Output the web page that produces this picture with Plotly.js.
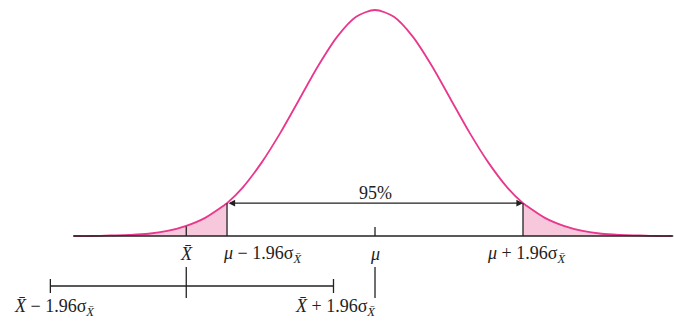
<!DOCTYPE html>
<html>
<head>
<meta charset="utf-8">
<script src="https://cdn.plot.ly/plotly-3.0.1.min.js"></script>
<style>
  html, body { margin: 0; padding: 0; background: #fff; }
  #plotArea { width: 674px; height: 323px; }
</style>
</head>
<body>
<div id="plotArea"></div>
<script>
// curve heights, in units of sigma from mu
var zValues = [-4, -3.75, -3.5, -3.25, -3, -2.75, -2.5, -2.25, -2, -1.96, -1.75, -1.5, -1.25, -1, -0.75, -0.5, -0.25, 0,
               0.25, 0.5, 0.75, 1, 1.25, 1.5, 1.75, 1.96, 2, 2.25, 2.5, 2.75, 3, 3.25, 3.5, 3.75, 3.93];
var heights = [0.000, 0.000, 0.001, 0.002, 0.004, 0.009, 0.018, 0.032, 0.054, 0.058, 0.086, 0.130, 0.183, 0.242, 0.301, 0.352, 0.387, 0.399,
               0.387, 0.352, 0.301, 0.242, 0.183, 0.130, 0.086, 0.058, 0.054, 0.032, 0.018, 0.009, 0.004, 0.002, 0.001, 0.000, 0.000];

var cutLow = -1.96, cutHigh = 1.96;
var xbar = -2.5;
var intervalEnds = [-4.3, -0.55];

var pink = "#e8378c";
var fillPink = "rgba(246,190,214,0.85)";
var ink = "#222";

function tail(test) {
    var xs = [], ys = [];
    for (var i = 0; i < zValues.length; i++) {
        if (test(zValues[i])) { xs.push(zValues[i]); ys.push(heights[i]); }
    }
    return {x: xs, y: ys};
}
var lo = tail(function (z) { return z <= cutLow; });
var hi = tail(function (z) { return z >= cutHigh; });

var data = [
    {x: lo.x, y: lo.y, type: "scatter", mode: "none", fill: "tozeroy", fillcolor: fillPink, line: {shape: "spline"}, hoverinfo: "skip"},
    {x: hi.x, y: hi.y, type: "scatter", mode: "none", fill: "tozeroy", fillcolor: fillPink, line: {shape: "spline"}, hoverinfo: "skip"},
    {x: zValues, y: heights, type: "scatter", mode: "lines", line: {color: pink, width: 1.8, shape: "spline", smoothing: 0.8}, hoverinfo: "skip"}
];

function hAt(z) {
    return heights[zValues.indexOf(z)];
}

var lineStyle = {color: ink, width: 1.3};
var shapes = [
    // baseline
    {type: "line", xref: "x", yref: "y", x0: -3.99, x1: 3.95, y0: 0, y1: 0, line: {color: ink, width: 1.6}},
    // cut lines
    {type: "line", xref: "x", yref: "y", x0: cutLow, x1: cutLow, y0: 0, y1: hAt(cutLow), line: lineStyle},
    {type: "line", xref: "x", yref: "y", x0: cutHigh, x1: cutHigh, y0: 0, y1: hAt(cutHigh), line: lineStyle},
    // X bar up to curve
    {type: "line", xref: "x", yref: "y", x0: xbar, x1: xbar, y0: 0, y1: 0.017, line: lineStyle},
    // mu tick
    {type: "line", xref: "x", yref: "y", x0: 0, x1: 0, y0: 0, y1: 0.016, line: lineStyle},
    // lower part: interval
    {type: "line", xref: "x", yref: "y", x0: intervalEnds[0], x1: intervalEnds[1], y0: -0.0883, y1: -0.0883, line: lineStyle},
    {type: "line", xref: "x", yref: "y", x0: intervalEnds[0], x1: intervalEnds[0], y0: -0.0759, y1: -0.1006, line: lineStyle},
    {type: "line", xref: "x", yref: "y", x0: intervalEnds[1], x1: intervalEnds[1], y0: -0.0759, y1: -0.1006, line: lineStyle},
    {type: "line", xref: "x", yref: "y", x0: xbar, x1: xbar, y0: -0.0547, y1: -0.1095, line: lineStyle},
    {type: "line", xref: "x", yref: "y", x0: 0, x1: 0, y0: -0.0547, y1: -0.1095, line: lineStyle}
];

var txtFont = {family: "Liberation Serif, Times New Roman, serif", size: 18, color: ink};
var XB = "<i>X\u0304</i>";
var SIG = "\u03c3<sub>" + XB + "</sub>";
function label(x, y, text) {
    return {x: x, y: y, xref: "x", yref: "y", text: text, showarrow: false, font: txtFont, xanchor: "center", yanchor: "middle"};
}
var annotations = [
    label(0, 0.0759, "95%"),
    label(xbar, -0.0318, XB),
    label(-1.49, -0.0318, "<i>\u03bc</i> \u2212 1.96" + SIG),
    label(0, -0.0318, "<i>\u03bc</i>"),
    label(2.0, -0.0318, "<i>\u03bc</i> + 1.96" + SIG),
    label(-4.25, -0.1254, XB + " \u2212 1.96" + SIG),
    label(-0.52, -0.1254, XB + " + 1.96" + SIG),
    // double headed arrow over the middle 95%
    {x: cutHigh, y: hAt(cutHigh), ax: cutLow, ay: hAt(cutLow), xref: "x", yref: "y", axref: "x", ayref: "y",
     text: "", showarrow: true, arrowhead: 2, startarrowhead: 2, arrowside: "end+start", arrowsize: 1.1, arrowwidth: 1.2, arrowcolor: ink}
];

var layout = {
    width: 674, height: 323,
    margin: {l: 0, r: 0, t: 0, b: 0},
    paper_bgcolor: "#fff", plot_bgcolor: "#fff",
    showlegend: false,
    xaxis: {range: [-4.967, 3.96], visible: false, fixedrange: true},
    yaxis: {range: [-0.1536, 0.4167], visible: false, fixedrange: true},
    shapes: shapes,
    annotations: annotations
};

Plotly.newPlot("plotArea", data, layout, {staticPlot: true});
</script>
</body>
</html>
